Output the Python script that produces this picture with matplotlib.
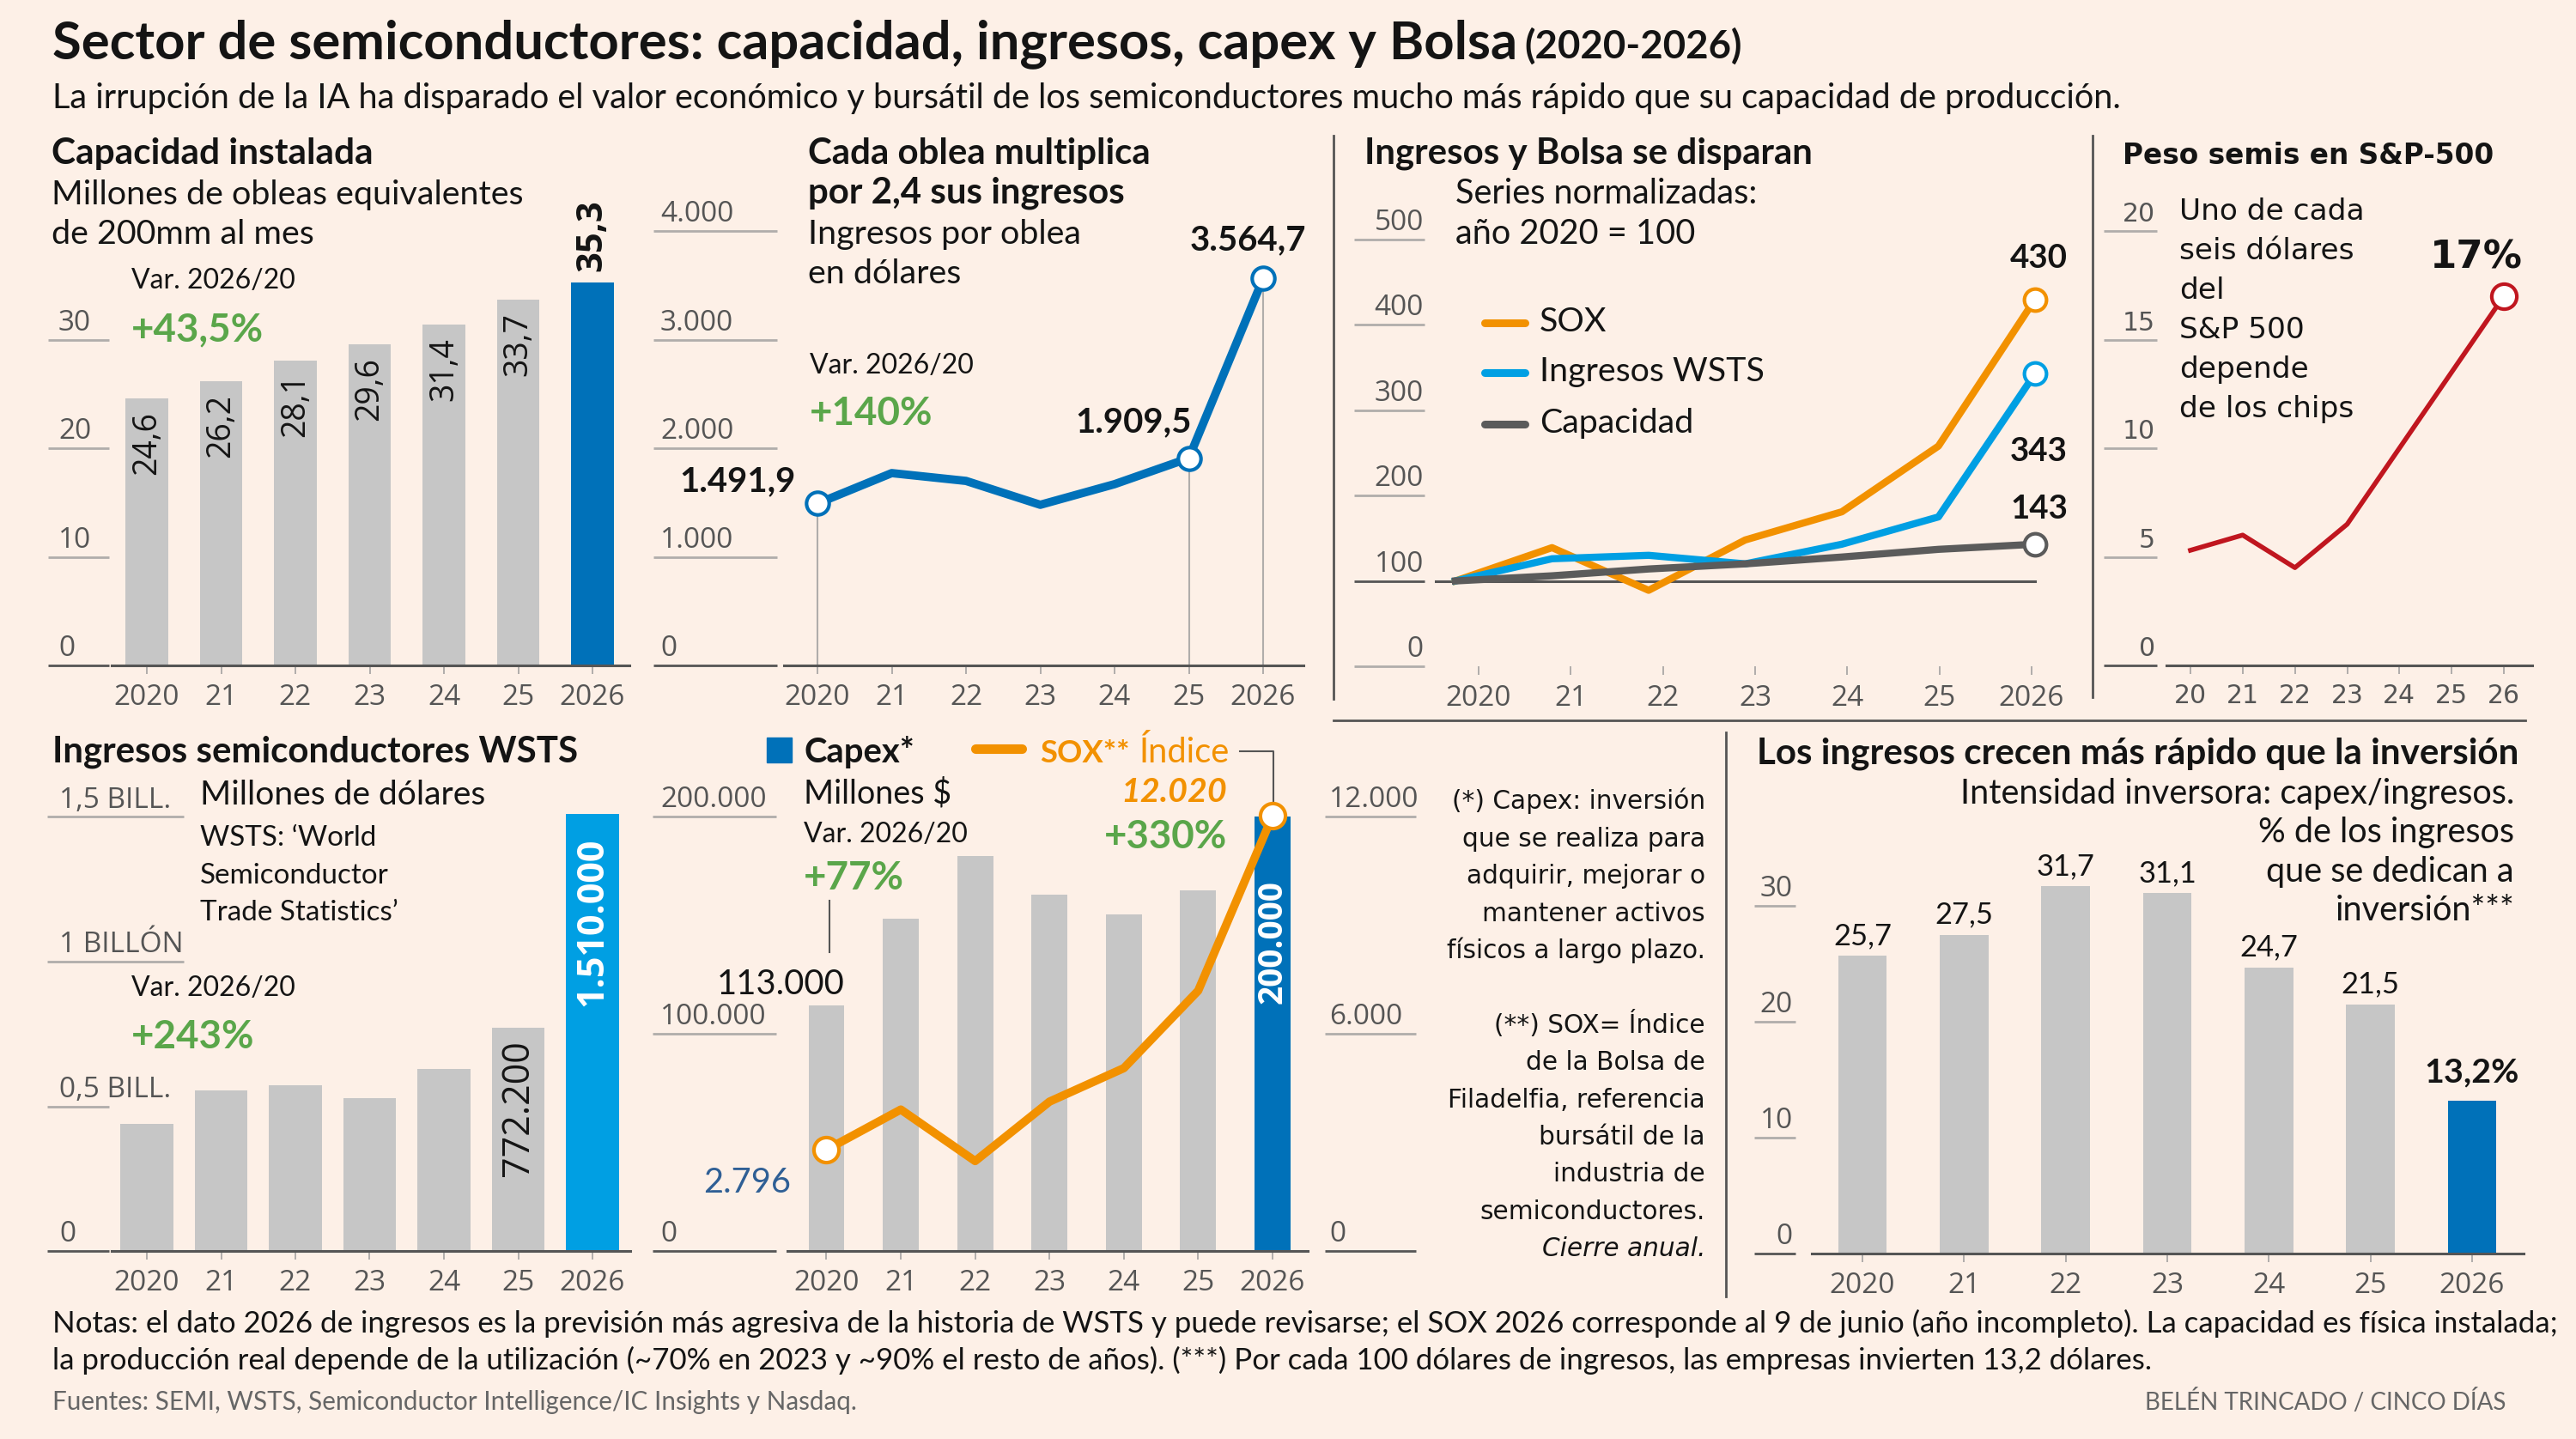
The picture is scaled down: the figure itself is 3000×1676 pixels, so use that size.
import matplotlib
matplotlib.use('Agg')
import matplotlib.pyplot as plt
import matplotlib.transforms as mtransforms
from matplotlib.patches import Rectangle

W, H = 3000, 1676
BG = '#fdf0e7'
BAR = '#c6c6c6'
BLUE = '#0071b9'
CYAN = '#009fe3'
ORANGE = '#f29100'
GREEN = '#5aa64a'
RED = '#c0161f'
DARK = '#555555'
GRID = '#b0adab'
INK = '#141414'
CAPGRAY = '#5b5b5b'

plt.rcParams['font.family'] = ['Lato', 'DejaVu Sans']
NUM = ['Open Sans', 'DejaVu Sans']
WIDE = ['DejaVu Sans']

# ---- datos ----
years = ['2020', '21', '22', '23', '24', '25', '2026']
years_short = ['20', '21', '22', '23', '24', '25', '26']

capacity = [24.6, 26.2, 28.1, 29.6, 31.4, 33.7, 35.3]            # M obleas 200mm/mes
rev_wafer = [1491.9, 1772, 1700, 1480, 1670, 1909.5, 3564.7]     # $ por oblea
idx_sox = [100, 139, 89, 148, 181, 258, 430]                     # 2020 = 100
idx_wsts = [100, 126, 130, 120, 143, 175, 343]
idx_cap = [100, 106, 114, 120, 128, 137, 143]
sp_weight = [5.3, 6.0, 4.5, 6.5, 10.0, 13.5, 17.0]               # % S&P 500
wsts = [440000, 556000, 574000, 527000, 628000, 772200, 1510000]  # M$
capex = [113000, 153000, 182000, 164000, 155000, 166000, 200000]  # M$
sox = [2796, 3906, 2483, 4125, 5050, 7190, 12020]
intensity = [25.7, 27.5, 31.7, 31.1, 24.7, 21.5, 13.2]           # capex/ingresos %

fig = plt.figure(figsize=(W / 100, H / 100), dpi=100, facecolor=BG)
ov = fig.add_axes([0, 0, 1, 1])   # capa en pixeles para textos y separadores
ov.set_xlim(0, W)
ov.set_ylim(H, 0)
ov.set_axis_off()
R = fig.canvas.get_renderer()


def fit(t, w):
    t.set_fontsize(t.get_fontsize() * w / t.get_window_extent(R).width)
    return t.get_fontsize()


def T(x, y, s, size=24, w=None, **kw):
    kw.setdefault('color', INK)
    kw.setdefault('va', 'baseline')
    t = ov.text(x, y, s, fontsize=size, **kw)
    if w:
        fit(t, w)
    return t


def es(v, dec=0):
    s = f'{v:,.{dec}f}'
    return s.replace(',', 'X').replace('.', ',').replace('X', '.')


def frame(x0, x1, c0, c6, base, ppu, top):
    step = (c6 - c0) / 6
    ax = fig.add_axes([x0 / W, 1 - base / H, (x1 - x0) / W, (base - top) / H])
    ax.set_xlim((x0 - c0) / step, (x1 - c0) / step)
    ax.set_ylim(0, (base - top) / ppu)
    ax.patch.set_visible(False)
    return ax


def panel(x0, x1, c0, c6, base, ppu, top, labels=years, font=NUM, size=24):
    ax = frame(x0, x1, c0, c6, base, ppu, top)
    for s in ['top', 'right', 'left']:
        ax.spines[s].set_visible(False)
    ax.spines['bottom'].set_color(DARK)
    ax.spines['bottom'].set_linewidth(2.2)
    ax.set_yticks([])
    ax.set_xticks(range(7))
    ax.set_xticklabels(labels, fontsize=size, color=DARK, family=font)
    ax.tick_params(axis='x', length=7, width=1.4, color=GRID, pad=8)
    return ax


def yguide(ax, vals, labels, x0, x1, lx, ha='left', dark=(0,), font=NUM, size=24):
    tr = mtransforms.blended_transform_factory(ov.transData, ax.transData)
    tl = mtransforms.offset_copy(tr, fig=fig, y=11, units='dots')
    if not isinstance(x1, list):
        x1 = [x1] * len(vals)
    for v, lab, xe in zip(vals, labels, x1):
        ax.plot([x0, xe], [v, v], color=DARK if v in dark else GRID, lw=2,
                transform=tr, clip_on=False, solid_capstyle='butt')
        ax.text(lx, v, lab, transform=tl, ha=ha, va='baseline', fontsize=size,
                color=DARK, family=font, clip_on=False)


def vlabel(ax, i, v, s, dy, color=INK, weight='normal', size=27):
    ax.annotate(s, (i, v), xytext=(0, dy), textcoords='offset pixels', rotation=90,
                ha='center', va='top' if dy < 0 else 'bottom', fontsize=size,
                family=NUM, color=color, fontweight=weight)


# ---- cabecera ----
T(61, 68, 'Sector de semiconductores: capacidad, ingresos, capex y Bolsa', 38, w=1703,
  fontweight='bold')
T(1775, 68, '(2020-2026)', 28, w=253, fontweight='bold')
T(61, 126, 'La irrupción de la IA ha disparado el valor económico y bursátil de los '
  'semiconductores mucho más rápido que su capacidad de producción.', 25, w=2420)

# ---- 1. capacidad instalada ----
ax1 = panel(130, 733, 171, 690, 775, 12.64, 140)
ax1.bar(range(7), capacity, width=0.57, color=[BAR] * 6 + [BLUE])
yguide(ax1, [0, 10, 20, 30], ['0', '10', '20', '30'], 56, 127, 68)
for i, v in enumerate(capacity[:-1]):
    vlabel(ax1, i, v, es(v, 1), -15)
vlabel(ax1, 6, capacity[6], es(capacity[6], 1), 13, weight='bold', size=30)

T(60, 191, 'Capacidad instalada', 26, w=375, fontweight='bold')
sub = T(60, 238, 'Millones de obleas equivalentes', 25, w=551).get_fontsize()
T(60, 284, 'de 200mm al mes', sub)
var = T(153, 336, 'Var. 2026/20', 23, w=191).get_fontsize()
big = T(153, 397, '+43,5%', 32, w=155, fontweight='bold', color=GREEN).get_fontsize()

# ---- 2. ingresos por oblea ----
ax2 = panel(913, 1518, 952, 1471, 775, 0.1264, 140)
yguide(ax2, [0, 1000, 2000, 3000, 4000], ['0', '1.000', '2.000', '3.000', '4.000'],
       761, 905, 769)
mk = [0, 5, 6]
ax2.vlines(mk, 0, [rev_wafer[i] for i in mk], color=GRID, lw=1.5, zorder=1)
ax2.plot(range(7), rev_wafer, color=BLUE, lw=7, zorder=2)
ax2.plot(mk, [rev_wafer[i] for i in mk], 'o', ms=19, mfc='white', mec=BLUE, mew=3, zorder=3)
offs = {0: (-25, 14), 5: (3, 30), 6: (50, 33)}
lsz = None
for i in mk:
    a = ax2.annotate(es(rev_wafer[i], 1), (i, rev_wafer[i]), xytext=offs[i],
                     textcoords='offset pixels', ha='right', va='baseline',
                     fontsize=28, fontweight='bold', color=INK)
    if lsz is None:
        lsz = fit(a, 135)
    else:
        a.set_fontsize(lsz)

tsz = T(941, 191, 'Cada oblea multiplica', 26, w=400, fontweight='bold').get_fontsize()
T(941, 237, 'por 2,4 sus ingresos', tsz, fontweight='bold')
T(941, 284, 'Ingresos por oblea', sub)
T(941, 330, 'en dólares', sub)
T(943, 435, 'Var. 2026/20', var)
T(943, 495, '+140%', big, fontweight='bold', color=GREEN)

# ---- 3. series normalizadas ----
ax3 = panel(1671, 2420, 1722, 2366, 776, 0.994, 140)
ax3.spines['bottom'].set_visible(False)
yguide(ax3, [0, 100, 200, 300, 400, 500], ['0', '100', '200', '300', '400', '500'],
       1577, 1659, 1658, ha='right', dark=(100,))
# las lineas van algo desplazadas respecto a las marcas de los años
ax3l = frame(1671, 2420, 1695, 2370, 776, 0.994, 140)
ax3l.set_axis_off()
ax3l.plot([ax3l.get_xlim()[0], 6], [100, 100], color=DARK, lw=2.2, zorder=1)
series = [(idx_sox, ORANGE), (idx_wsts, CYAN), (idx_cap, CAPGRAY)]
for vals, c in series:
    ax3l.plot(range(7), vals, color=c, lw=6, zorder=2)
    ax3l.plot(6, vals[6], 'o', ms=18.5, mfc='white', mec=c, mew=3, zorder=3)
nsz = None
for vals, dy in [(idx_sox, 37), (idx_wsts, -102), (idx_cap, 30)]:
    a = ax3l.annotate(str(vals[6]), (6, vals[6]), xytext=(38, dy), textcoords='offset pixels',
                      ha='right', va='baseline', fontsize=28, fontweight='bold', color=INK)
    if nsz is None:
        nsz = fit(a, 67)
    else:
        a.set_fontsize(nsz)

T(1589, 191, 'Ingresos y Bolsa se disparan', 26, w=522, fontweight='bold')
s3 = T(1695, 237, 'Series normalizadas:', 25, w=353).get_fontsize()
T(1695, 284, 'año 2020 = 100', s3)
leg = []
for y, c, lab in [(376, ORANGE, 'SOX'), (434, CYAN, 'Ingresos WSTS'), (494, CAPGRAY, 'Capacidad')]:
    ov.plot([1729, 1776], [y, y], color=c, lw=6.5, solid_capstyle='round')
    leg.append(T(1793, y + 10, lab, 27))
lg = fit(leg[1], 262)
for t in leg:
    t.set_fontsize(lg)

# ---- 4. peso en el S&P 500 ----
ax4 = panel(2523, 2949, 2551, 2916, 775, 25.3, 140, labels=years_short, font=WIDE, size=21.5)
yguide(ax4, [0, 5, 10, 15, 20], ['0', '5', '10', '15', '20'], 2450, 2512, 2510,
       ha='right', font=WIDE, size=21.5)
ax4.plot(range(7), sp_weight, color=RED, lw=4, zorder=2)
ax4.plot(6, sp_weight[6], 'o', ms=21, mfc='white', mec=RED, mew=3, zorder=3)
a = ax4.annotate('17%', (6, sp_weight[6]), xytext=(22, 32), textcoords='offset pixels',
                 ha='right', va='baseline', fontsize=32, fontweight='bold', family=WIDE, color=INK)
fit(a, 108)

T(2472, 191, 'Peso semis en S&P-500', 23, w=432, fontweight='bold', family=WIDE)
lines4 = ['Uno de cada', 'seis dólares', 'del', 'S&P 500', 'depende', 'de los chips']
s4 = T(2538, 256, lines4[0], 22, w=215, family=WIDE).get_fontsize()
for k, ln in enumerate(lines4[1:], 1):
    T(2538, 256 + 46 * k, ln, s4, family=WIDE)

# ---- 5. ingresos WSTS ----
ax5 = panel(130, 734, 171, 690, 1457, 3.37e-4, 850)
ax5.bar(range(7), wsts, width=0.71, color=[BAR] * 6 + [CYAN])
yguide(ax5, [0, 5e5, 1e6, 1.5e6], ['0', '0,5 BILL.', '1 BILLÓN', '1,5 BILL.'],
       55, [127, 127, 214, 214], 69)
vlabel(ax5, 5, wsts[5], es(wsts[5]), -14, size=31)
vlabel(ax5, 6, wsts[6], es(wsts[6]), -27, color='white', weight='bold', size=31)

T(61, 887, 'Ingresos semiconductores WSTS', 26, w=612, fontweight='bold')
T(233, 937, 'Millones de dólares', 25, w=332)
s5 = T(233, 985, 'WSTS: ‘World', 23, w=206).get_fontsize()
T(233, 1029, 'Semiconductor', s5)
T(233, 1072, 'Trade Statistics’', s5)
T(153, 1160, 'Var. 2026/20', var)
T(153, 1221, '+243%', big, fontweight='bold', color=GREEN)

# ---- 6. capex y SOX ----
ax6 = panel(917, 1523, 962.5, 1482, 1457, 2.53e-3, 850)
ax6.bar(range(7), capex, width=0.485, color=[BAR] * 6 + [BLUE])
yguide(ax6, [0, 1e5, 2e5], ['0', '100.000', '200.000'], 760, 904, 769)
ax6s = ax6.twinx()
ax6s.set_ylim(0, (1457 - 850) / (253 / 6000))
for sp in ax6s.spines.values():
    sp.set_visible(False)
ax6s.set_yticks([])
ax6s.patch.set_visible(False)
yguide(ax6s, [0, 6000, 12000], ['0', '6.000', '12.000'], 1543, 1649, 1548)
ax6s.plot(range(7), sox, color=ORANGE, lw=7, zorder=2)
ax6s.plot([0, 6], [sox[0], sox[6]], 'o', ms=21, mfc='white', mec=ORANGE, mew=3, zorder=3)
vlabel(ax6, 6, capex[6], es(capex[6]), -74, color='white', weight='bold', size=28)
a = ax6.annotate(es(capex[0]), (0, capex[0]), xytext=(21.5, 13), textcoords='offset pixels',
                 ha='right', va='baseline', fontsize=28, color=INK)
fit(a, 148)
a = ax6s.annotate(es(sox[0]), (0, sox[0]), xytext=(-41.5, -50), textcoords='offset pixels',
                  ha='right', va='baseline', fontsize=28, color='#2f5f95')
fit(a, 102)
a = ax6s.annotate(es(sox[6]), (6, sox[6]), xytext=(-53, 16), textcoords='offset pixels',
                  ha='right', va='baseline', fontsize=26, color=ORANGE,
                  fontweight='bold', fontstyle='italic')
fit(a, 124)
ax6s.annotate('+330%', (6, sox[6]), xytext=(-53, -38), textcoords='offset pixels',
              ha='right', va='baseline', fontsize=big, color=GREEN, fontweight='bold')

ov.add_patch(Rectangle((893, 859), 29, 29, color=BLUE))
T(936, 888, 'Capex*', 26, w=129, fontweight='bold')
ov.plot([1136, 1190], [872, 872], color=ORANGE, lw=8, solid_capstyle='round')
T(1211, 888, 'SOX**', 26, w=105, fontweight='bold', color=ORANGE)
T(1326, 888, 'Índice', 26, w=105, color=ORANGE)
ov.plot([1444, 1483, 1483], [875, 875, 937], color=DARK, lw=1.5)
T(936, 935, 'Millones $', 25, w=172)
T(936, 981, 'Var. 2026/20', var)
T(936, 1036, '+77%', big, fontweight='bold', color=GREEN)
ov.plot([966, 966], [1049, 1109], color=DARK, lw=1.5)

# notas a pie del bloque
notes_a = ['(*) Capex: inversión', 'que se realiza para', 'adquirir, mejorar o',
           'mantener activos', 'físicos a largo plazo.']
notes_b = ['(**) SOX= Índice', 'de la Bolsa de', 'Filadelfia, referencia',
           'bursátil de la', 'industria de', 'semiconductores.']
fs = T(1986, 942, notes_a[0], 21, w=295, family=WIDE, ha='right').get_fontsize()
for k, ln in enumerate(notes_a[1:], 1):
    T(1986, 942 + 43.5 * k, ln, fs, family=WIDE, ha='right')
for k, ln in enumerate(notes_b):
    T(1986, 1203 + 43.3 * k, ln, fs, family=WIDE, ha='right')
T(1986, 1203 + 43.3 * 6, 'Cierre anual.', fs, family=WIDE, ha='right', fontstyle='italic')

# ---- 7. intensidad inversora ----
ax7 = panel(2110, 2939, 2169, 2879, 1460, 13.5, 850)
ax7.bar(range(7), intensity, width=0.48, color=[BAR] * 6 + [BLUE])
yguide(ax7, [0, 10, 20, 30], ['0', '10', '20', '30'], 2043, 2091, 2088, ha='right')
isz = None
for i, v in enumerate(intensity[:-1]):
    a = ax7.annotate(es(v, 1), (i, v), xytext=(0, 13), textcoords='offset pixels',
                     ha='center', va='baseline', fontsize=25, color=INK)
    if isz is None:
        isz = fit(a, 68)
    else:
        a.set_fontsize(isz)
a = ax7.annotate(es(intensity[6], 1) + '%', (6, intensity[6]), xytext=(0, 21),
                 textcoords='offset pixels', ha='center', va='baseline', fontsize=28,
                 fontweight='bold', color=INK)
fit(a, 110)

T(2046, 889, 'Los ingresos crecen más rápido que la inversión', 26, w=886, fontweight='bold')
s7 = T(2928, 936, 'Intensidad inversora: capex/ingresos.', 25, w=646, ha='right').get_fontsize()
for k, ln in enumerate(['% de los ingresos', 'que se dedican a', 'inversión***'], 1):
    T(2928, 936 + 45.3 * k, ln, s7, ha='right')

# ---- separadores ----
for xs, ys in [([1553, 1553], [158, 814]), ([2437, 2437], [158, 812]),
               ([1553, 2941], [839, 839]), ([2010, 2010], [853, 1510])]:
    ov.plot(xs, ys, color=DARK, lw=2)

# ---- notas ----
nf = T(61, 1552, 'Notas: el dato 2026 de ingresos es la previsión más agresiva de la historia de '
       'WSTS y puede revisarse; el SOX 2026 corresponde al 9 de junio (año incompleto). '
       'La capacidad es física instalada;', 22, w=2905).get_fontsize()
T(61, 1595, 'la producción real depende de la utilización (~70% en 2023 y ~90% el resto de años). '
  '(***) Por cada 100 dólares de ingresos, las empresas invierten 13,2 dólares.', nf)
T(61, 1642, 'Fuentes: SEMI, WSTS, Semiconductor Intelligence/IC Insights y Nasdaq.', 18, w=934,
  color='#666666')
T(2918, 1642, 'BELÉN TRINCADO / CINCO DÍAS', 18, w=420, color='#666666', ha='right')

fig.savefig('out.png', dpi=100, facecolor=BG)
